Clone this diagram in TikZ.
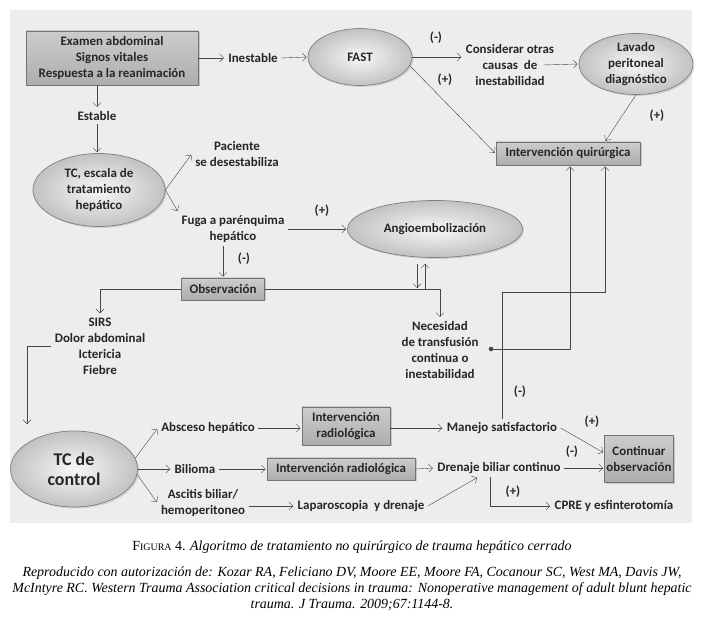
\documentclass[tikz,border=0pt]{standalone}
\usepackage{fontspec}
\setmainfont{Carlito}
\newfontfamily\capfont{Liberation Serif}
\usepackage{tikz}
\usetikzlibrary{arrows}
\usetikzlibrary{arrows.meta}
\usetikzlibrary{shapes.geometric}
\usetikzlibrary{shadows}
\usetikzlibrary{positioning}
\usetikzlibrary{calc}
\definecolor{linecol}{gray}{0.27}
\definecolor{txtcol}{gray}{0.15}
\tikzset{shorten >=1pt, line width=0.85bp,
  every node/.style={font=\fontsize{13}{16}\selectfont\bfseries, text=txtcol, align=center},
  box/.style={draw=black!55, top color=black!20, bottom color=black!32, inner sep=2bp, line width=0.7bp,
    drop shadow={shadow xshift=1.5bp, shadow yshift=-1.5bp, opacity=0.35}},
  oval/.style={ellipse, draw=black!50, inner color=black!3, outer color=black!24, inner sep=0pt, line width=0.7bp,
    drop shadow={shadow xshift=1.5bp, shadow yshift=-1.5bp, opacity=0.25}},
  capt/.style={font=\capfont\fontsize{14}{16}\selectfont, text=black}}

\begin{document}
\begin{tikzpicture}[>={Straight Barb[length=4bp,width=8bp]},line join=bevel,color=linecol]
\useasboundingbox (0bp,0bp) rectangle (705bp,620bp);
\fill [black!7] (10bp,97bp) rectangle (692bp,610bp);
%%
\node (exam) at (112.0bp,562.0bp) [box,minimum width=172bp,minimum height=54bp] {Examen abdominal\\Signos vitales\\Respuesta a la reanimación};
  \node (inest) at (253.0bp,562.0bp) {Inestable};
  \node (fast) at (360.0bp,563.0bp) [oval,minimum width=104bp,minimum height=57bp] {FAST};
  \node (consid) at (510.0bp,555.0bp) {Considerar otras\\causas\ \ de\\inestabilidad};
  \node (lavado) at (636.0bp,556.0bp) [oval,minimum width=114bp,minimum height=58bp] {Lavado\\peritoneal\\diagnóstico};
  \node (iq) at (568.0bp,466.5bp) [box,minimum width=144bp,minimum height=23bp] {Intervención quirúrgica};
  \node (est) at (97.0bp,504.0bp) {Estable};
  \node (tcesc) at (99.0bp,430.0bp) [oval,minimum width=132bp,minimum height=73bp] {TC, escala de\\tratamiento\\hepático};
  \node (pac) at (237.0bp,466.0bp) {Paciente\\se desestabiliza};
  \node (fuga) at (233.0bp,391.0bp) {Fuga a parénquima\\hepático};
  \node (angio) at (435.0bp,391.0bp) [oval,minimum width=175bp,minimum height=57bp] {Angioembolización};
  \node (obs) at (223.0bp,331.0bp) [box,minimum width=83bp,minimum height=22bp] {Observación};
  \node (sirs) at (100.0bp,274.0bp) {SIRS\\Dolor abdominal\\Ictericia\\Fiebre};
  \node (nec) at (440.0bp,270.0bp) {Necesidad\\de transfusión\\continua o\\inestabilidad};
  \node (dot) at (491.0bp,271.0bp) [circle,fill=linecol,inner sep=1.6bp] {};
  \node (tcctl) at (74.0bp,151.0bp) [oval,minimum width=127bp,minimum height=76bp,font=\fontsize{18}{20}\selectfont\bfseries] {TC de\\control};
  \node (absc) at (208.0bp,192.0bp) {Absceso hepático};
  \node (bil) at (195.0bp,151.0bp) {Bilioma};
  \node (asc) at (203.0bp,117.0bp) {Ascitis biliar/\\hemoperitoneo};
  \node (ir1) at (346.0bp,194.0bp) [box,minimum width=88bp,minimum height=38bp] {Intervención\\radiológica};
  \node (ir2) at (341.0bp,151.0bp) [box,minimum width=148bp,minimum height=22bp] {Intervención radiológica};
  \node (lap) at (361.0bp,114.0bp) {Laparoscopia\ \ y drenaje};
  \node (manejo) at (502.0bp,192.0bp) {Manejo satisfactorio};
  \node (dren) at (499.0bp,152.0bp) {Drenaje biliar continuo};
  \node (cont) at (639.0bp,161.0bp) [box,minimum width=68bp,minimum height=47bp] {Continuar\\observación};
  \node (cpre) at (614.0bp,114.0bp) {CPRE y esfinterotomía};
  % signs
  \node (s_fastneg) at (436.0bp,582.0bp) {(-)};
  \node (s_fastpos) at (445.0bp,540.0bp) {(+)};
  \node (s_lavpos) at (657.0bp,504.0bp) {(+)};
  \node (s_fugapos) at (322.0bp,409.0bp) {(+)};
  \node (s_fuganeg) at (244.0bp,361.0bp) {(-)};
  \node (s_manneg) at (520.0bp,228.0bp) {(-)};
  \node (s_manpos) at (592.0bp,198.0bp) {(+)};
  \node (s_drenneg) at (572.0bp,168.0bp) {(-)};
  \node (s_drenpos) at (513.0bp,128.0bp) {(+)};
  \coordinate (c_tc) at (27.0bp,195.0bp);
  \coordinate (c_dn) at (417.0bp,331.0bp);
  \coordinate (c_up) at (425.0bp,331.0bp);
  \coordinate (c_ne) at (605.0bp,328.0bp);
  % connectors
  \draw [->] (exam.east) -- (inest.west);
  \draw [->] (inest.east) -- (fast.west);
  \draw [->] (fast.east) -- (fast.east -| consid.west);
  \draw [->] (fast.-10) -- (iq.west);
  \draw [->] ([xshift=-14bp]consid.east) -- (lavado.west);
  \draw [->] (lavado.south) -- ([xshift=37bp]iq.north);
  \draw [->] (exam.south -| est) -- (est.north);
  \draw [->] (est.south) -- (est.south |- tcesc.north);
  \draw [->] (tcesc.east) -- (pac.west);
  \draw [->] (tcesc.east) -- (fuga.north west);
  \draw [->] (fuga.east) -- (angio.west);
  \draw [->] (obs.north |- fuga.south) -- (obs.north);
  \draw [->] (obs.west) -| (sirs.north);
  \draw [->] (sirs.west) -| (c_tc);
  \draw [->] (obs.east) -| (nec.north);
  \draw [->,shorten <=6bp] (angio.south -| c_dn) -- (c_dn);
  \draw [->,shorten >=6bp] (c_up) -- (c_up |- angio.south);
  \draw [->] (dot) -| ([xshift=2bp]iq.south);
  \draw [->] (manejo.north) |- (c_ne) -- ([xshift=37bp]iq.south);
  \draw [->] (tcctl.10) -- (absc.west);
  \draw [->] (tcctl.east) -- (bil.west);
  \draw [->] (tcctl.-5) -- (asc.west);
  \draw [->] (absc.east) -- (absc.east -| ir1.west);
  \draw [->] (bil.east) -- (ir2.west);
  \draw [->] (lap.west -| asc.east) -- (lap.west);
  \draw [->] (ir1.east |- manejo) -- (manejo.west);
  \draw [->] (ir2.east) -- (dren.west);
  \draw [->] (lap.east) -- ([xshift=-21bp]dren.south);
  \draw [->] (dren.east) -- (dren.east -| cont.west);
  \draw [->] (manejo.east) -- ([yshift=6bp]cont.west);
  \draw [->] ([xshift=-9bp]dren.south) |- (cpre.west);
  % caption
  \node (cap1) at (352.0bp,73.0bp) [capt] {F{\fontsize{10}{16}\selectfont IGURA} 4. \textit{Algoritmo de tratamiento no quirúrgico de trauma hepático cerrado}};
  \node (cap2) at (352.0bp,31.0bp) [capt,font=\capfont\itshape\fontsize{14}{16}\selectfont] {Reproducido con autorización de: Kozar RA, Feliciano DV, Moore EE, Moore FA, Cocanour SC, West MA, Davis JW,\\McIntyre RC. Western Trauma Association critical decisions in trauma: Nonoperative management of adult blunt hepatic\\trauma. J Trauma. 2009;67:1144-8.};
%
\end{tikzpicture}
\end{document}
